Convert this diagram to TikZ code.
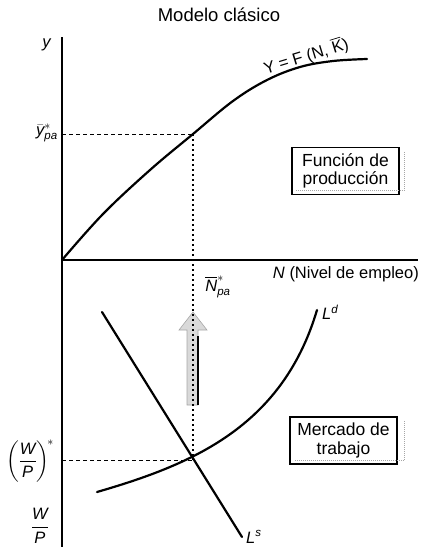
\documentclass[tikz,border=0pt]{standalone}
\usepackage{amsmath}
\usepackage{fontspec}
\setmainfont{Liberation Sans}
\begin{document}
\begin{tikzpicture}[x=1pt,y=-1pt,
  font=\fontsize{16.5}{19}\selectfont,
  curve/.style={line width=2.2pt, line cap=round},
  axis/.style={line width=1.6pt},
  guide/.style={line width=1pt, dash pattern=on 4pt off 3pt},
  vguide/.style={line width=1.1pt, dash pattern=on 2pt off 3pt},
  lbl/.style={inner sep=0pt},
  boxlbl/.style={draw, line width=1.1pt, align=center, inner sep=0pt,
    minimum width=107pt, minimum height=47pt,
    font=\fontsize{17.5}{18.5}\selectfont},
  shadow/.style={gray!70, line width=0.8pt, dash pattern=on 1pt off 1pt},
  bigarrow/.style={fill=gray!30, draw=gray!70, line width=0.6pt}]
\useasboundingbox (0,0) rectangle (423,547);

% title
\node[lbl] (title) at (219,15) {\fontsize{18.5}{20}\selectfont Modelo clásico};

% axes
\coordinate (O) at (62,260);
\coordinate (ytop) at (62,37);
\coordinate (ybot) at (62,547);
\coordinate (xend) at (418,260);
\draw[axis] (ytop) -- (ybot);
\draw[axis] (O) -- (xend);

% axis labels
\node[lbl] (ylab) at (47,45) {\textit{y}};
\node[lbl, anchor=east] (ypa) at (58,133) {$\bar{\textit{y}}^{*}_{\textit{pa}}$};
\node[lbl, anchor=east] (Nlab) at (419,274) {\textit{N} (Nivel de empleo)};
\node[lbl] (Npa) at (218,287) {$\overline{\textit{N}}^{*}_{\textit{pa}}$};
\node[lbl] (wpstar) at (30,461) {$\left(\dfrac{\textit{W}}{\textit{P}}\right)^{\!*}$};
\node[lbl] (wp) at (40,526) {$\dfrac{\textit{W}}{\textit{P}}$};

% key points
\coordinate (A) at (193,134);
\coordinate (E) at (193,460);
\coordinate (yA) at (62,134);
\coordinate (wE) at (62,460);

% production function
\draw[curve] plot[smooth, tension=0.6] coordinates {(62,260) (103,214) (150,170) (193,134) (233,101) (267,80) (300,67) (333,61) (367,59)};
\node[lbl, rotate=17] (Flab) at (306,56) {Y = F (N, $\overline{\text{K}}$)};

% labour supply (Ls) and demand (Ld)
\coordinate (Ls1) at (102,312);
\coordinate (Ls2) at (242,537);
\draw[curve] (Ls1) -- (Ls2);
\node[lbl, anchor=west] (Lslab) at (246,537) {\textit{L}$^{\textit{s}}$};
\coordinate (Ld1) at (97,492);
\coordinate (Ld2) at (317,310);
\draw[curve] (Ld1) .. controls (190,465) and (282,428) .. (Ld2);
\node[lbl, anchor=west] (Ldlab) at (322,312) {\textit{L}$^{\textit{d}}$};

% guide lines
\draw[guide] (yA) -- (A);
\draw[guide] (wE) -- (E);

% big hollow arrow
\draw[bigarrow] (187,405) -- (187,330) -- (179,330) -- (193,312) -- (207,330) -- (198,330) -- (198,405) -- cycle;
\draw[line width=1.2pt] (198,336) -- (198,405);
\draw[vguide] (A) -- (E);

% boxes
\node[boxlbl] (prod) at (345.5,171) {Función de\\producción};
\draw[shadow] ([xshift=5pt,yshift=-5pt]prod.north east) -- ([xshift=5pt,yshift=5pt]prod.south east) -- ([xshift=5pt,yshift=5pt]prod.south west);
\node[boxlbl] (merc) at (343.5,440.5) {Mercado de\\trabajo};
\draw[shadow] ([xshift=7pt,yshift=-5pt]merc.north east) -- ([xshift=7pt,yshift=4pt]merc.south east) -- ([xshift=5pt,yshift=4pt]merc.south west);
\end{tikzpicture}
\end{document}
